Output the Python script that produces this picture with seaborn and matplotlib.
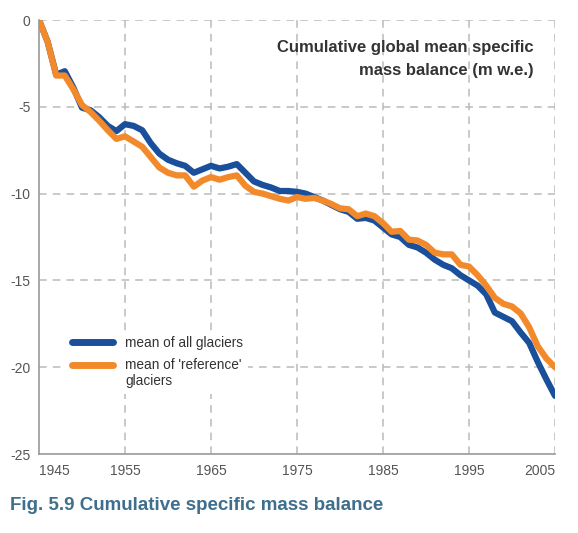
import numpy as np
import pandas as pd
import matplotlib.pyplot as plt
import seaborn as sns

# data (cumulative m w.e.)
years = list(range(1945, 2006))
all_glaciers = [0, -1.25, -3.15, -2.95, -3.9, -5.05, -5.2, -5.6, -6.1, -6.4,
                -6.0, -6.1, -6.35, -7.1, -7.7, -8.05, -8.25, -8.4, -8.8, -8.6,
                -8.4, -8.55, -8.45, -8.3, -8.8, -9.3, -9.5, -9.65, -9.85, -9.85,
                -9.9, -10.0, -10.2, -10.4, -10.65, -10.9, -11.05, -11.45, -11.4, -11.55,
                -11.95, -12.35, -12.5, -12.95, -13.1, -13.4, -13.8, -14.1, -14.3, -14.7,
                -15.0, -15.3, -15.8, -16.85, -17.1, -17.35, -18.0, -18.6, -19.7, -20.7,
                -21.65]
ref_glaciers = [0, -1.25, -3.2, -3.2, -4.0, -4.9, -5.3, -5.8, -6.35, -6.85,
                -6.7, -7.0, -7.3, -7.9, -8.5, -8.8, -8.95, -8.95, -9.6, -9.25,
                -9.05, -9.2, -9.05, -8.95, -9.55, -9.9, -10.0, -10.15, -10.3, -10.4,
                -10.2, -10.3, -10.25, -10.4, -10.6, -10.85, -10.9, -11.3, -11.15, -11.3,
                -11.7, -12.2, -12.15, -12.65, -12.7, -12.95, -13.4, -13.5, -13.5, -14.1,
                -14.2, -14.7, -15.3, -16.0, -16.35, -16.5, -16.9, -17.7, -18.8, -19.5,
                -20.0]
series_names = ['mean of all glaciers', "mean of 'reference'\nglaciers"]
x_ticks = [1945, 1955, 1965, 1975, 1985, 1995, 2005]
y_ticks = [0, -5, -10, -15, -20, -25]

df = pd.DataFrame({
    'year': years * 2,
    'value': all_glaciers + ref_glaciers,
    'series': [series_names[0]] * len(years) + [series_names[1]] * len(years),
})

sns.set_style('white')
plt.rcParams['font.family'] = ['Liberation Sans', 'DejaVu Sans']
plt.rcParams['axes.unicode_minus'] = False

fig = plt.figure(figsize=(5.78, 5.33), dpi=100)
ax = fig.add_axes([39 / 578, 79 / 533, (555 - 39) / 578, (454 - 20) / 533])

sns.lineplot(data=df, x='year', y='value', hue='series', ax=ax,
             palette=['#1a4f9c', '#f28a2c'], linewidth=4.5, legend=True)

ax.set_xlim(1945, 2005)
ax.set_ylim(-25, 0)
ax.set_xticks(x_ticks)
ax.set_yticks(y_ticks)
ax.set_xlabel('')
ax.set_ylabel('')

# dashed grid
for xv in x_ticks[1:]:
    ax.axvline(xv, color='#bbbbbb', lw=1.1, ls=(0, (5, 4)), zorder=0)
for yv in y_ticks[:-1]:
    ax.axhline(yv, color='#bbbbbb', lw=1.1, ls=(0, (5, 4)), zorder=0)

for side in ['top', 'right']:
    ax.spines[side].set_visible(False)
for side in ['left', 'bottom']:
    ax.spines[side].set_color('#999999')
    ax.spines[side].set_linewidth(1.2)
ax.tick_params(axis='y', labelsize=10, colors='#555555', length=4,
               width=1, color='#999999', direction='out', pad=2)
ax.tick_params(axis='x', labelsize=10, colors='#555555', length=3,
               width=1, color='#999999', direction='out', pad=4)
xlabels = ax.get_xticklabels()
xlabels[0].set_ha('left')
xlabels[-1].set_ha('right')

ax.text(0.958, 0.953, 'Cumulative global mean specific\nmass balance (m w.e.)',
        transform=ax.transAxes, ha='right', va='top', fontsize=12,
        fontweight='bold', color='#333333', linespacing=1.65)

leg = ax.legend(loc='upper left', bbox_to_anchor=(0.04, 0.30), frameon=True,
                fontsize=9.8, handlelength=3.0, handletextpad=0.9,
                labelspacing=0.6, facecolor='white', edgecolor='none',
                framealpha=1, fancybox=False)
leg.set_zorder(1)
for t in leg.get_texts():
    t.set_color('#333333')
lines = leg.get_lines()
for line in lines:
    line.set_linewidth(5)
    line.set_solid_capstyle('round')
# put the second handle next to the first text line
lines[1].set_ydata(np.asarray(lines[1].get_ydata()) + 6.5)

fig.text(10 / 578, 1 - 506 / 533, 'Fig. 5.9 Cumulative specific mass balance',
         ha='left', va='center', fontsize=13.5, fontweight='bold',
         color='#3f6f8c')

fig.savefig('out.png', dpi=100)
